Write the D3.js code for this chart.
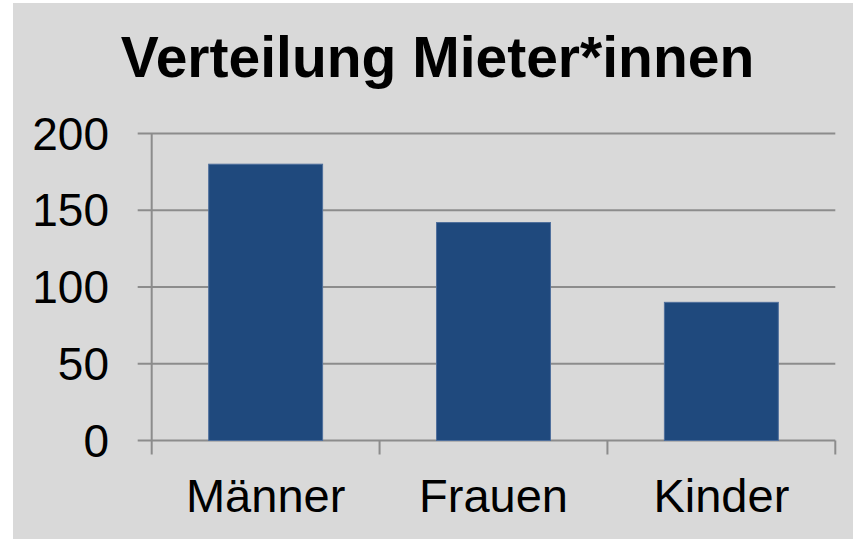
<!DOCTYPE html>
<html>
<head>
<meta charset="utf-8">
<script src="https://cdn.jsdelivr.net/npm/d3@7"></script>
<style>
  body { margin: 0; background: #ffffff; }
  svg { display: block; font-family: "Liberation Sans", Arial, sans-serif; }
</style>
</head>
<body>
<div id="chart"></div>
<script>
// data
var categories = ["Männer", "Frauen", "Kinder"];
var values = [180, 142, 90];
var yTicks = [0, 50, 100, 150, 200];
var title = "Verteilung Mieter*innen";

var svgWidth = 854;
var svgHeight = 539;

var plot = { left: 151.7, right: 835.3, top: 133.5, bottom: 440.5 };

var svg = d3.select("#chart")
  .append("svg")
  .attr("width", svgWidth)
  .attr("height", svgHeight);

// grey chart area
svg.append("rect")
  .attr("x", 13)
  .attr("y", 3)
  .attr("width", 840)
  .attr("height", 536)
  .attr("fill", "#d9d9d9");

var xScale = d3.scaleBand()
  .domain(categories)
  .range([plot.left, plot.right])
  .paddingInner(0.5)
  .paddingOuter(0.25);

var yScale = d3.scaleLinear()
  .domain([0, 200])
  .range([plot.bottom, plot.top]);

// gridlines + left ticks
svg.append("g")
  .selectAll("line")
  .data(yTicks)
  .enter()
  .append("line")
  .attr("x1", plot.left - 14)
  .attr("x2", plot.right)
  .attr("y1", d => yScale(d))
  .attr("y2", d => yScale(d))
  .attr("stroke", "#8c8c8c")
  .attr("stroke-width", 2);

// y axis line
svg.append("line")
  .attr("x1", plot.left)
  .attr("x2", plot.left)
  .attr("y1", yScale(200))
  .attr("y2", yScale(0))
  .attr("stroke", "#8c8c8c")
  .attr("stroke-width", 2);

// category boundary ticks
var step = xScale.step();
var bounds = d3.range(categories.length + 1).map(i => plot.left + i * step);
svg.append("g")
  .selectAll("line")
  .data(bounds)
  .enter()
  .append("line")
  .attr("x1", d => d)
  .attr("x2", d => d)
  .attr("y1", yScale(0))
  .attr("y2", yScale(0) + 14)
  .attr("stroke", "#8c8c8c")
  .attr("stroke-width", 2);

// bars
svg.append("g")
  .selectAll("rect")
  .data(values)
  .enter()
  .append("rect")
  .attr("x", (d, i) => xScale(categories[i]))
  .attr("y", d => yScale(d))
  .attr("width", xScale.bandwidth())
  .attr("height", d => yScale(0) - yScale(d))
  .attr("fill", "#1f497d")
  .attr("stroke", "#4f6f9c")
  .attr("stroke-width", 1);

// y tick labels
svg.append("g")
  .selectAll("text")
  .data(yTicks)
  .enter()
  .append("text")
  .attr("x", 109)
  .attr("y", d => yScale(d))
  .attr("dy", "0.35em")
  .attr("text-anchor", "end")
  .attr("font-size", 46)
  .attr("fill", "#000")
  .text(d => d);

// x labels
svg.append("g")
  .selectAll("text")
  .data(categories)
  .enter()
  .append("text")
  .attr("x", d => xScale(d) + xScale.bandwidth() / 2)
  .attr("y", 512)
  .attr("text-anchor", "middle")
  .attr("font-size", 47)
  .attr("fill", "#000")
  .text(d => d);

// title
svg.append("text")
  .attr("x", 437.5)
  .attr("y", 76.5)
  .attr("text-anchor", "middle")
  .attr("font-size", 57)
  .attr("font-weight", "bold")
  .attr("fill", "#000")
  .text(title);
</script>
</body>
</html>
